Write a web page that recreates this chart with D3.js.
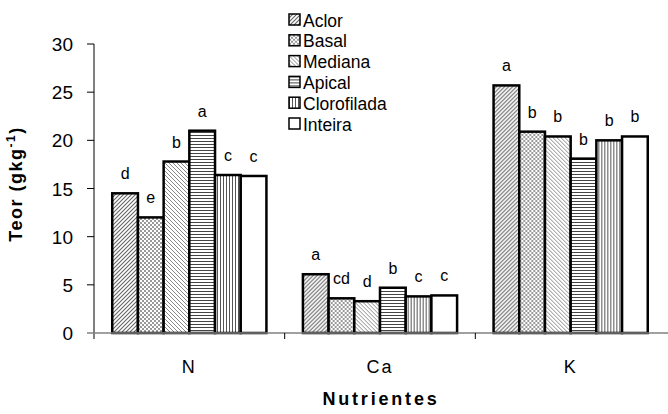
<!DOCTYPE html>
<html>
<head>
<meta charset="utf-8">
<script src="https://cdn.jsdelivr.net/npm/d3@7"></script>
<style>
  body { margin: 0; background: #fff; }
  text { font-family: "Liberation Sans", Arial, sans-serif; fill: #000; }
</style>
</head>
<body>
<div id="chart"></div>
<script>
// data
var categories = ["N", "Ca", "K"];
var series = ["Aclor", "Basal", "Mediana", "Apical", "Clorofilada", "Inteira"];
var aclor       = [14.5, 6.1, 25.7];
var basal       = [12.0, 3.6, 20.9];
var mediana     = [17.8, 3.3, 20.4];
var apical      = [21.0, 4.7, 18.1];
var clorofilada = [16.4, 3.8, 20.0];
var inteira     = [16.3, 3.9, 20.4];
var lettersN  = ["d", "e", "b", "a", "c", "c"];
var lettersCa = ["a", "cd", "d", "b", "c", "c"];
var lettersK  = ["a", "b", "b", "b", "b", "b"];
var yTicks = [0, 5, 10, 15, 20, 25, 30];

var seriesValues = [aclor, basal, mediana, apical, clorofilada, inteira];
var seriesLetters = [lettersN, lettersCa, lettersK];

// set the dimensions
var W = 668, H = 414;
var mLeft = 94, mRight = 666, mTop = 44, mBottom = 333;

var svg = d3.select("#chart").append("svg")
    .attr("width", W)
    .attr("height", H);

// fill patterns
var defs = svg.append("defs");

var p1 = defs.append("pattern").attr("id", "pat0")
    .attr("patternUnits", "userSpaceOnUse").attr("width", 4).attr("height", 4);
p1.append("rect").attr("width", 4).attr("height", 4).attr("fill", "#fff");
p1.append("path").attr("d", "M0,4 L4,0 M-1,1 L1,-1 M3,5 L5,3")
    .attr("stroke", "#666").attr("stroke-width", 1.1);

var p2 = defs.append("pattern").attr("id", "pat1")
    .attr("patternUnits", "userSpaceOnUse").attr("width", 4).attr("height", 4);
p2.append("rect").attr("width", 4).attr("height", 4).attr("fill", "#fff");
p2.append("rect").attr("width", 2).attr("height", 2).attr("fill", "#999");
p2.append("rect").attr("x", 2).attr("y", 2).attr("width", 2).attr("height", 2).attr("fill", "#999");

var p3 = defs.append("pattern").attr("id", "pat2")
    .attr("patternUnits", "userSpaceOnUse").attr("width", 4).attr("height", 4);
p3.append("rect").attr("width", 4).attr("height", 4).attr("fill", "#fff");
p3.append("path").attr("d", "M0,0 L4,4 M-1,3 L1,5 M3,-1 L5,1")
    .attr("stroke", "#888").attr("stroke-width", 1);

var p4 = defs.append("pattern").attr("id", "pat3")
    .attr("patternUnits", "userSpaceOnUse").attr("width", 3).attr("height", 3);
p4.append("rect").attr("width", 3).attr("height", 3).attr("fill", "#fff");
p4.append("rect").attr("y", 0).attr("width", 3).attr("height", 1).attr("fill", "#444");

var p5 = defs.append("pattern").attr("id", "pat4")
    .attr("patternUnits", "userSpaceOnUse").attr("width", 3).attr("height", 3);
p5.append("rect").attr("width", 3).attr("height", 3).attr("fill", "#fff");
p5.append("rect").attr("x", 0).attr("width", 1).attr("height", 3).attr("fill", "#555");

var fills = ["url(#pat0)", "url(#pat1)", "url(#pat2)", "url(#pat3)", "url(#pat4)", "#fff"];

// set the ranges
var x0 = d3.scaleBand().domain(categories).range([mLeft, mRight]).padding(0);
var x1 = d3.scaleBand().domain(series).range([0, x0.bandwidth()])
    .paddingInner(0).paddingOuter(0.71);
var y = d3.scaleLinear().domain([0, 30]).range([mBottom, mTop]);

// bars
var groups = svg.selectAll(".grp")
    .data(categories)
  .enter().append("g")
    .attr("class", "grp")
    .attr("transform", function(d) { return "translate(" + x0(d) + ",0)"; });

groups.each(function(cat, ci) {
  var g = d3.select(this);
  series.forEach(function(s, si) {
    var v = seriesValues[si][ci];
    g.append("rect")
        .attr("x", x1(s))
        .attr("y", y(v))
        .attr("width", x1.bandwidth())
        .attr("height", y(0) - y(v))
        .attr("fill", fills[si])
        .attr("stroke", "#000")
        .attr("stroke-width", 2.5);
    g.append("text")
        .attr("x", x1(s) + x1.bandwidth() / 2)
        .attr("y", y(v) - 14)
        .style("text-anchor", "middle")
        .style("font-size", "16px")
        .text(seriesLetters[ci][si]);
  });
});

// y axis
svg.append("line")
    .attr("x1", mLeft).attr("x2", mLeft)
    .attr("y1", mTop).attr("y2", mBottom + 6)
    .attr("stroke", "#000").attr("stroke-width", 1);

svg.selectAll(".ytick")
    .data(yTicks)
  .enter().append("line")
    .attr("x1", mLeft - 7).attr("x2", mLeft)
    .attr("y1", function(d) { return y(d); })
    .attr("y2", function(d) { return y(d); })
    .attr("stroke", function(d) { return d === 0 ? "#808080" : "#000"; })
    .attr("stroke-width", function(d) { return d === 0 ? 1.5 : 1; });

svg.selectAll(".ylab")
    .data(yTicks)
  .enter().append("text")
    .attr("x", mLeft - 21)
    .attr("y", function(d) { return y(d) + 7; })
    .style("text-anchor", "end")
    .style("font-size", "19px")
    .text(function(d) { return d; });

// x axis
svg.append("line")
    .attr("x1", mLeft).attr("x2", W)
    .attr("y1", mBottom).attr("y2", mBottom)
    .attr("stroke", "#808080").attr("stroke-width", 1.5);

svg.selectAll(".xtick")
    .data(categories.slice(1))
  .enter().append("line")
    .attr("x1", function(d) { return x0(d); })
    .attr("x2", function(d) { return x0(d); })
    .attr("y1", mBottom).attr("y2", mBottom + 6)
    .attr("stroke", "#000");

svg.selectAll(".xlab")
    .data(categories)
  .enter().append("text")
    .attr("x", function(d) { return x0(d) + x0.bandwidth() / 2; })
    .attr("y", 373)
    .style("text-anchor", "middle")
    .style("font-size", "18px")
    .style("letter-spacing", "2px")
    .text(function(d) { return d; });

// axis titles
svg.append("text")
    .attr("x", (mLeft + W) / 2)
    .attr("y", 405)
    .style("text-anchor", "middle")
    .style("font-size", "18px")
    .style("font-weight", "bold")
    .style("letter-spacing", "2.8px")
    .text("Nutrientes");

var yt = svg.append("text")
    .attr("transform", "translate(22,184) rotate(-90)")
    .style("text-anchor", "middle")
    .style("font-size", "18px")
    .style("font-weight", "bold")
    .style("letter-spacing", "1.5px");
yt.append("tspan").text("Teor (gkg");
yt.append("tspan").attr("dy", -7).style("font-size", "12px").text("-1");
yt.append("tspan").attr("dy", 7).text(")");

// legend
var legend = svg.selectAll(".leg")
    .data(series)
  .enter().append("g")
    .attr("class", "leg")
    .attr("transform", function(d, i) { return "translate(289," + (14 + i * 20.8) + ")"; });

legend.append("rect")
    .attr("width", 11).attr("height", 11)
    .attr("fill", function(d, i) { return fills[i]; })
    .attr("stroke", "#000").attr("stroke-width", 1.5);

legend.append("text")
    .attr("x", 14)
    .attr("y", 12.5)
    .style("font-size", "17.5px")
    .text(function(d) { return d; });
</script>
</body>
</html>
